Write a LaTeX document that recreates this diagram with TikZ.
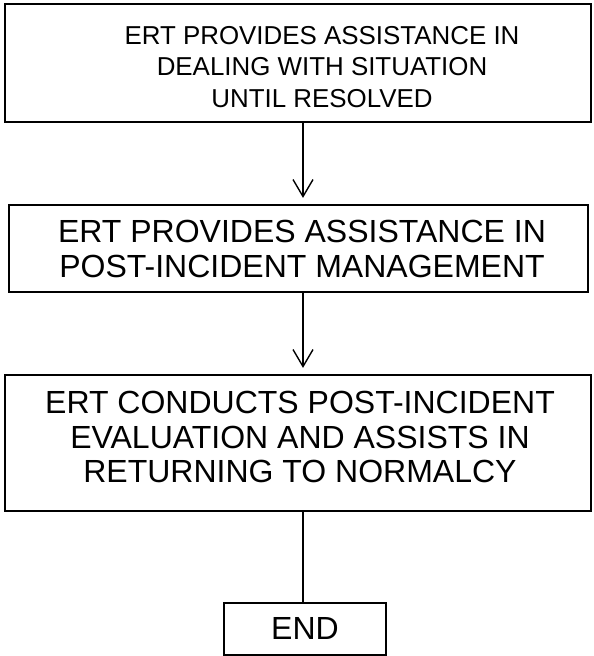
\documentclass[tikz,border=0pt]{standalone}
\usepackage{fontspec}
\setmainfont{Liberation Sans}
\usetikzlibrary{arrows.meta}
\begin{document}
\begin{tikzpicture}[x=1pt,y=-1pt,
  stepbox/.style={draw=black,line width=2.2pt,rectangle,inner sep=0pt},
  steptext/.style={align=center,inner sep=0pt},
  small/.style={font=\fontsize{25.9}{31.5}\selectfont},
  big/.style={font=\fontsize{32}{34.5}\selectfont},
  conn/.style={draw=black,line width=1.4pt},
  arr/.style={conn,-{Straight Barb[length=17pt,width=20pt,line width=1.4pt]},shorten >=6pt}]
\useasboundingbox (0,0) rectangle (594,656);
% boxes
\node[stepbox,minimum width=586pt,minimum height=118pt] (b1) at (298,63) {};
\node[steptext,small] (t1) at (322,67) {ERT PROVIDES ASSISTANCE IN\\DEALING WITH SITUATION\\UNTIL RESOLVED};
\node[stepbox,minimum width=579pt,minimum height=87pt] (b2) at (298.5,248.5) {};
\node[steptext,big] (t2) at (302,249) {ERT PROVIDES ASSISTANCE IN\\POST-INCIDENT MANAGEMENT};
\node[stepbox,minimum width=586pt,minimum height=136pt] (b3) at (298,443) {};
\node[steptext,big] (t3) at (300,437) {ERT CONDUCTS POST-INCIDENT\\EVALUATION AND ASSISTS IN\\RETURNING TO NORMALCY};
\node[stepbox,minimum width=162pt,minimum height=52pt] (b4) at (305,629) {};
\node[steptext,big] (t4) at (305,628) {END};
% connectors
\coordinate (c1) at (303,0);
\draw[arr] (b1.south -| c1) -- (b2.north -| c1);
\draw[arr] (b2.south -| c1) -- (b3.north -| c1);
\draw[conn] (b3.south -| c1) -- (b4.north -| c1);
\end{tikzpicture}
\end{document}
